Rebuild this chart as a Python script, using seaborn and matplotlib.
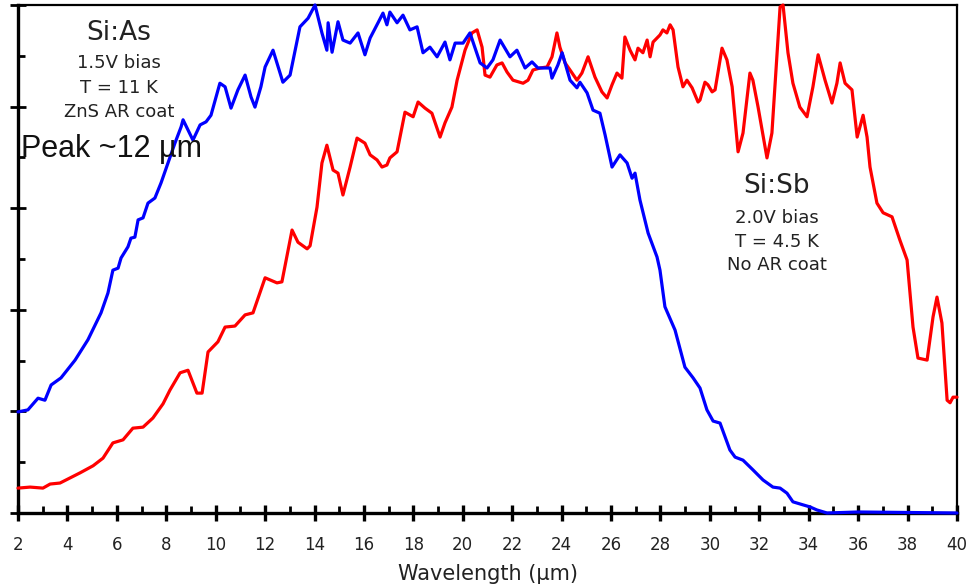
import matplotlib
matplotlib.use("Agg")
import matplotlib.pyplot as plt
from matplotlib.ticker import MultipleLocator, NullFormatter
import seaborn as sns
import pandas as pd

# ---- data (normalized response vs wavelength in micrometres) ----
si_as_wavelength = [2.00, 2.40, 2.81, 3.09, 3.34, 3.74, 4.31, 4.83, 5.36, 5.64, 5.84, 6.05, 6.17, 6.45,
                    6.57, 6.73, 6.86, 7.06, 7.26, 7.54, 7.79, 8.07, 8.35, 8.60, 8.68, 9.08, 9.37, 9.61,
                    9.81, 10.17, 10.38, 10.62, 10.90, 11.19, 11.43, 11.59, 11.83, 12.00, 12.32, 12.72,
                    13.01, 13.41, 13.74, 14.02, 14.30, 14.50, 14.55, 14.71, 14.95, 15.15, 15.44, 15.76,
                    16.04, 16.25, 16.57, 16.77, 16.93, 17.05, 17.34, 17.58, 17.86, 18.15, 18.39, 18.67,
                    18.96, 19.28, 19.48, 19.69, 20.01, 20.29, 20.70, 20.98, 21.22, 21.51, 21.91, 22.19,
                    22.52, 22.80, 23.04, 23.53, 23.61, 23.85, 24.02, 24.34, 24.62, 24.74, 25.03, 25.27,
                    25.55, 25.76, 26.04, 26.36, 26.65, 26.85, 26.97, 27.17, 27.50, 27.86, 27.98, 28.18,
                    28.59, 28.99, 29.32, 29.60, 29.88, 30.13, 30.41, 30.81, 31.02, 31.34, 31.74, 32.15,
                    32.55, 32.84, 33.12, 33.36, 33.77, 34.05, 34.33, 34.74, 36.00, 38.00, 40.00]
si_as_response = [0.199, 0.203, 0.226, 0.222, 0.252, 0.266, 0.301, 0.341, 0.394, 0.433, 0.478, 0.482,
                  0.502, 0.524, 0.541, 0.543, 0.577, 0.581, 0.610, 0.620, 0.650, 0.689, 0.728, 0.760,
                  0.774, 0.734, 0.764, 0.770, 0.783, 0.846, 0.839, 0.797, 0.833, 0.862, 0.819, 0.799,
                  0.839, 0.878, 0.911, 0.848, 0.862, 0.957, 0.974, 1.000, 0.945, 0.911, 0.965, 0.907,
                  0.967, 0.931, 0.925, 0.945, 0.902, 0.935, 0.965, 0.984, 0.961, 0.986, 0.965, 0.980,
                  0.951, 0.957, 0.906, 0.917, 0.898, 0.927, 0.892, 0.925, 0.925, 0.945, 0.886, 0.876,
                  0.892, 0.931, 0.898, 0.911, 0.876, 0.888, 0.876, 0.876, 0.856, 0.882, 0.906, 0.852,
                  0.837, 0.848, 0.827, 0.793, 0.787, 0.744, 0.681, 0.705, 0.689, 0.659, 0.669, 0.616,
                  0.551, 0.504, 0.478, 0.406, 0.360, 0.287, 0.266, 0.246, 0.203, 0.181, 0.177, 0.124,
                  0.110, 0.104, 0.085, 0.065, 0.051, 0.049, 0.039, 0.022, 0.016, 0.012, 0.006, 0.000,
                  0.002, 0.001, 0.000]

si_sb_wavelength = [2.00, 2.49, 3.01, 3.30, 3.70, 4.19, 4.51, 5.04, 5.44, 5.84, 6.25, 6.65, 7.06, 7.46,
                    7.87, 8.15, 8.56, 8.88, 9.24, 9.45, 9.69, 10.09, 10.38, 10.78, 11.19, 11.51, 12.00,
                    12.48, 12.68, 13.09, 13.33, 13.70, 13.82, 14.10, 14.30, 14.50, 14.75, 14.95, 15.15,
                    15.44, 15.72, 16.04, 16.25, 16.53, 16.73, 16.93, 17.05, 17.34, 17.66, 17.99, 18.19,
                    18.47, 18.75, 19.08, 19.28, 19.56, 19.77, 20.09, 20.37, 20.58, 20.78, 20.90, 21.10,
                    21.38, 21.59, 21.79, 22.03, 22.44, 22.64, 22.84, 23.13, 23.41, 23.61, 23.81, 23.93,
                    24.14, 24.34, 24.62, 24.82, 25.07, 25.35, 25.63, 25.84, 26.04, 26.24, 26.44, 26.56,
                    26.77, 26.97, 27.09, 27.29, 27.46, 27.58, 27.70, 27.98, 28.10, 28.26, 28.39, 28.51,
                    28.71, 28.91, 29.07, 29.28, 29.52, 29.60, 29.80, 29.92, 30.09, 30.21, 30.49, 30.69,
                    30.90, 31.14, 31.34, 31.62, 31.74, 31.95, 32.31, 32.51, 32.84, 32.96, 33.16, 33.36,
                    33.64, 33.93, 34.17, 34.38, 34.66, 34.94, 35.14, 35.27, 35.47, 35.75, 35.96, 36.20,
                    36.36, 36.48, 36.76, 37.01, 37.37, 37.69, 37.98, 38.22, 38.42, 38.79, 39.03, 39.19,
                    39.39, 39.60, 39.72, 39.84, 40.00]
si_sb_response = [0.049, 0.051, 0.049, 0.057, 0.059, 0.071, 0.079, 0.093, 0.108, 0.138, 0.144, 0.167,
                  0.169, 0.187, 0.215, 0.242, 0.276, 0.281, 0.236, 0.236, 0.317, 0.337, 0.366, 0.368,
                  0.390, 0.394, 0.463, 0.453, 0.455, 0.557, 0.533, 0.520, 0.526, 0.602, 0.689, 0.724,
                  0.675, 0.669, 0.626, 0.681, 0.738, 0.728, 0.705, 0.695, 0.681, 0.685, 0.699, 0.711,
                  0.789, 0.780, 0.809, 0.797, 0.787, 0.740, 0.768, 0.799, 0.852, 0.911, 0.945, 0.951,
                  0.917, 0.862, 0.858, 0.882, 0.886, 0.868, 0.852, 0.846, 0.852, 0.872, 0.876, 0.878,
                  0.898, 0.945, 0.917, 0.886, 0.872, 0.852, 0.866, 0.898, 0.858, 0.829, 0.817, 0.843,
                  0.866, 0.856, 0.937, 0.911, 0.892, 0.915, 0.906, 0.931, 0.898, 0.927, 0.941, 0.951,
                  0.945, 0.961, 0.951, 0.878, 0.839, 0.852, 0.837, 0.809, 0.813, 0.848, 0.843, 0.829,
                  0.833, 0.915, 0.892, 0.839, 0.711, 0.748, 0.866, 0.852, 0.799, 0.699, 0.748, 0.996,
                  1.000, 0.906, 0.846, 0.799, 0.780, 0.839, 0.902, 0.852, 0.807, 0.846, 0.886, 0.846,
                  0.833, 0.740, 0.783, 0.740, 0.681, 0.610, 0.591, 0.583, 0.537, 0.498, 0.366, 0.305,
                  0.301, 0.386, 0.425, 0.374, 0.222, 0.217, 0.228, 0.228]

x_ticks = list(range(2, 41, 2))
x_tick_labels = [str(v) for v in x_ticks]
x_label = "Wavelength (µm)"
si_as_text = ["Si:As", "1.5V bias", "T = 11 K", "ZnS AR coat"]
si_sb_text = ["Si:Sb", "2.0V bias", "T = 4.5 K", "No AR coat"]
peak_text = "Peak ~12 µm"

sns.set_theme(style="ticks")
plt.rcParams["font.family"] = ["DejaVu Sans"]

fig = plt.figure(figsize=(9.66, 5.85), dpi=100)
ax = fig.add_axes([18 / 966, 72 / 585, 939 / 966, 508 / 585])

df_as = pd.DataFrame({"wl": si_as_wavelength, "r": si_as_response})
df_sb = pd.DataFrame({"wl": si_sb_wavelength, "r": si_sb_response})

sns.lineplot(data=df_sb, x="wl", y="r", color="#FF0000", linewidth=2.3, ax=ax,
             estimator=None, sort=False, clip_on=False, zorder=3,
             solid_joinstyle="round", solid_capstyle="round")
sns.lineplot(data=df_as, x="wl", y="r", color="#0000FF", linewidth=2.3, ax=ax,
             estimator=None, sort=False, clip_on=False, zorder=4,
             solid_joinstyle="round", solid_capstyle="round")

ax.set_xlim(2, 40)
ax.set_ylim(0, 1.0)
ax.set_xticks(x_ticks)
ax.set_xticklabels(x_tick_labels)
ax.xaxis.set_minor_locator(MultipleLocator(1))
ax.yaxis.set_major_locator(MultipleLocator(0.2))
ax.yaxis.set_minor_locator(MultipleLocator(0.1))
ax.yaxis.set_major_formatter(NullFormatter())
ax.set_xlabel(x_label, fontsize=15, color="#222222", labelpad=7)
ax.set_ylabel("")

for side in ["left", "bottom"]:
    ax.spines[side].set_linewidth(2.4)
for side in ["top", "right"]:
    ax.spines[side].set_linewidth(1.6)
    ax.spines[side].set_visible(True)
for s in ax.spines.values():
    s.set_color("black")

ax.tick_params(axis="x", which="major", direction="inout", length=11, width=2.4,
               labelsize=12, pad=11, colors="black", labelcolor="#222222")
ax.tick_params(axis="x", which="minor", direction="in", length=5, width=2.0, colors="black")
ax.tick_params(axis="y", which="major", direction="inout", length=12, width=2.0, colors="black")
ax.tick_params(axis="y", which="minor", direction="in", length=5, width=2.0, colors="black")

# annotations (axes-fraction positions)
def fx(px):
    return (px - 18) / 939

def fy(py):
    return (513 - py) / 508

sizes = [19, 13, 13, 13]
as_y = [33, 63, 88, 112]
for t, yy, s in zip(si_as_text, as_y, sizes):
    ax.text(fx(119), fy(yy), t, transform=ax.transAxes, ha="center", va="center",
            fontsize=s, color="#222222")
sb_y = [186, 218, 242, 265]
for t, yy, s in zip(si_sb_text, sb_y, sizes):
    ax.text(fx(777), fy(yy), t, transform=ax.transAxes, ha="center", va="center",
            fontsize=s, color="#222222")
ax.text(fx(21), fy(149), peak_text, transform=ax.transAxes, ha="left", va="center",
        fontsize=22, color="#111111", family=["Liberation Sans", "DejaVu Sans"], zorder=5)

fig.savefig("out.png", dpi=100, facecolor="white")
